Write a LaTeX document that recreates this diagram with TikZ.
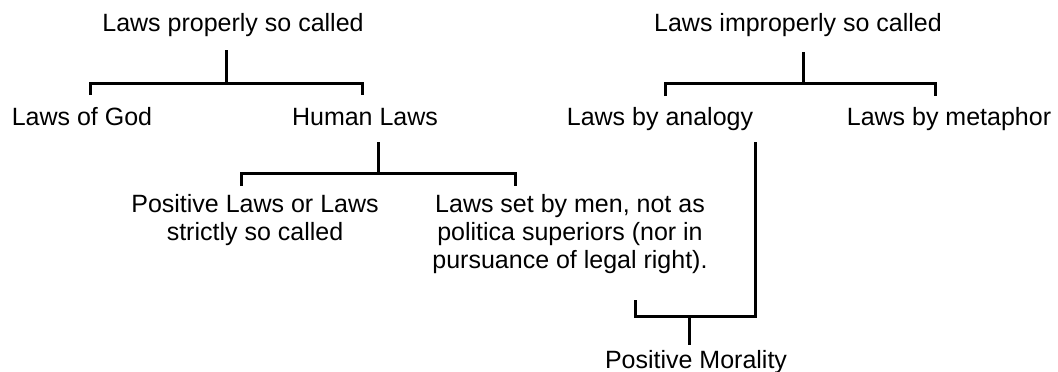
\documentclass[tikz,border=0pt]{standalone}
\usepackage{fontspec}
\setmainfont{Liberation Sans}
\begin{document}
\begin{tikzpicture}[x=1pt,y=-1pt,
  lbl/.style={font=\fontsize{25}{28}\selectfont, inner sep=0pt, anchor=base, align=center},
  conn/.style={line width=3pt, line cap=butt, line join=miter}]
\useasboundingbox[fill=white] (0,0) rectangle (1058,372);
% text nodes (base anchor = baseline of last line)
\node[lbl] (lp) at (233,31) {Laws properly so called};
\node[lbl] (li) at (798,31) {Laws improperly so called};
\node[lbl] (god) at (82,125) {Laws of God};
\node[lbl] (hum) at (365,125) {Human Laws};
\node[lbl] (ana) at (660,125) {Laws by analogy};
\node[lbl] (met) at (949,125) {Laws by metaphor};
\node[lbl] (pos) at (255,240) {Positive Laws or Laws\\strictly so called};
\node[lbl] (men) at (570,268) {Laws set by men, not as\\politica superiors (nor in\\pursuance of legal right).};
\node[lbl] (mor) at (696,368) {Positive Morality};
% bracket coordinates
\coordinate (lpS) at (226,50);
\coordinate (lpJ) at (226,83);
\coordinate (godT) at (90,95);
\coordinate (humT) at (362,95);
\coordinate (liS) at (803,52);
\coordinate (liJ) at (803,83);
\coordinate (anaT) at (665,96);
\coordinate (metT) at (935,96);
\coordinate (humS) at (378,142);
\coordinate (humJ) at (378,173);
\coordinate (posT) at (241,186);
\coordinate (menT) at (515,186);
\coordinate (anaS) at (755,142);
\coordinate (menB) at (635,300);
\coordinate (morJ) at (689,316);
\coordinate (morS) at (689,345);
% connectors
\draw[conn] (lpS) -- (lpJ);
\draw[conn] (godT) |- (humT |- lpJ) -- (humT);
\draw[conn] (liS) -- (liJ);
\draw[conn] (anaT) |- (metT |- liJ) -- (metT);
\draw[conn] (humS) -- (humJ);
\draw[conn] (posT) |- (menT |- humJ) -- (menT);
\draw[conn] (menB) |- (anaS |- morJ) -- (anaS);
\draw[conn] (morJ) -- (morS);
\end{tikzpicture}
\end{document}
